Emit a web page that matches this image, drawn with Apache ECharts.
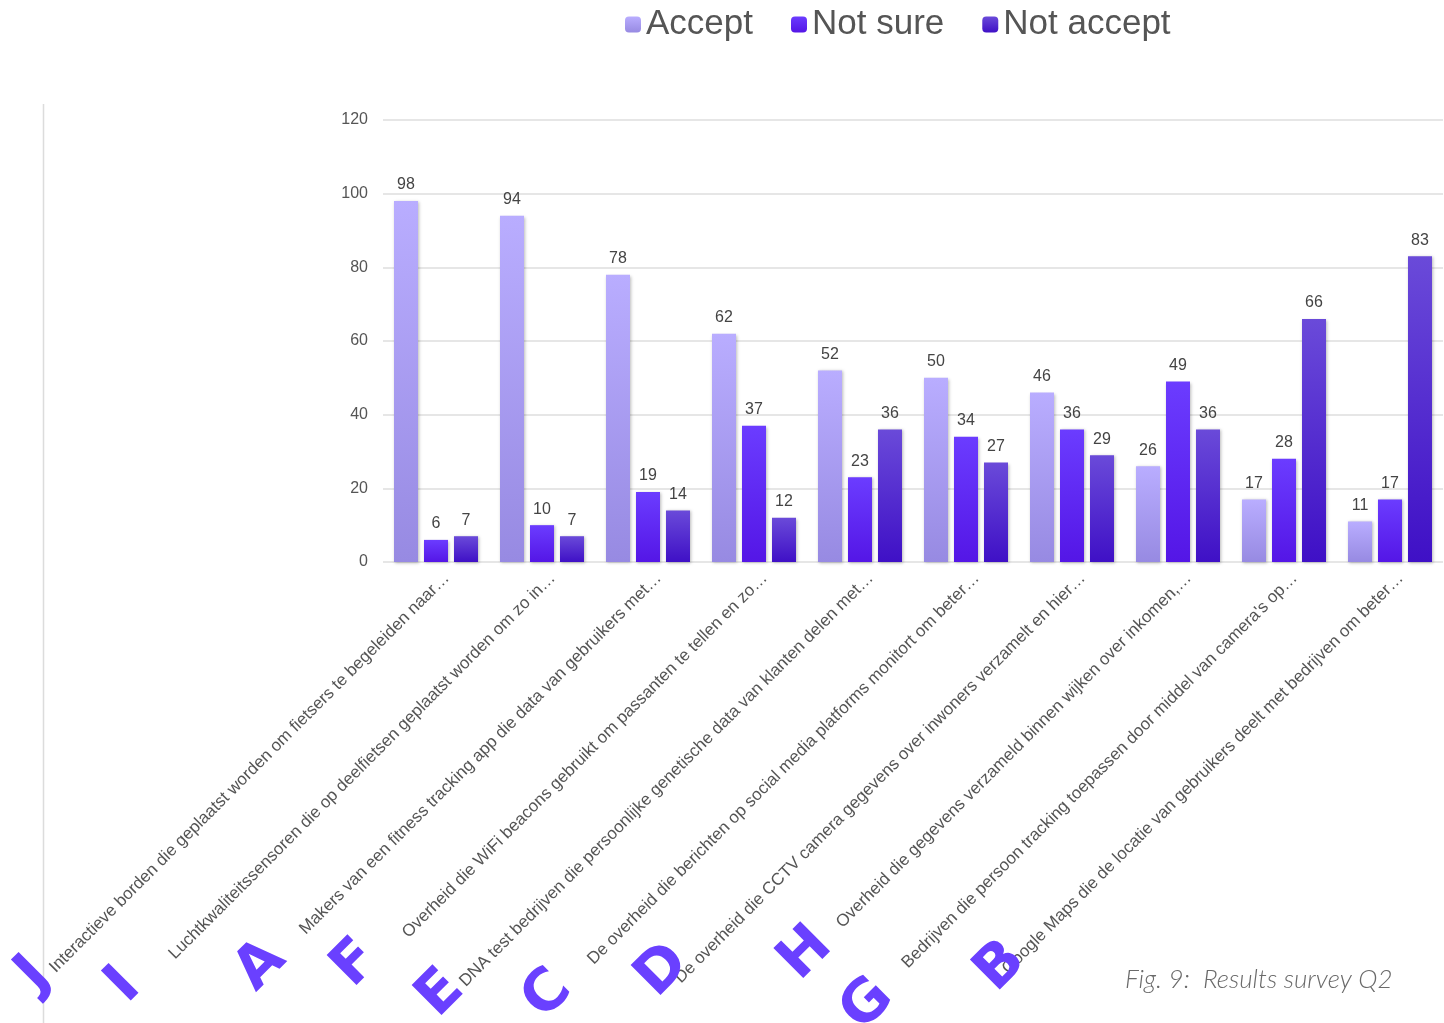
<!DOCTYPE html>
<html>
<head>
<meta charset="utf-8">
<script src="https://cdn.jsdelivr.net/npm/echarts@6/dist/echarts.min.js"></script>
<style>
  html, body { margin: 0; padding: 0; background: #fff; }
  #chart { width: 1444px; height: 1023px; }
</style>
</head>
<body>
<div id="chart"></div>
<script>
// Survey statements (as shown on the axis, already shortened)
const categories = [
  "Interactieve borden die geplaatst worden om fietsers te begeleiden naar\u2026",
  "Luchtkwaliteitssensoren die op deelfietsen geplaatst worden om zo in\u2026",
  "Makers van een fitness tracking app die data van gebruikers met\u2026",
  "Overheid die WiFi beacons gebruikt om passanten te tellen en zo\u2026",
  "DNA test bedrijven die persoonlijke genetische data van klanten delen met\u2026",
  "De overheid die berichten op social media platforms monitort om beter\u2026",
  "De overheid die CCTV camera gegevens over inwoners verzamelt en hier\u2026",
  "Overheid die gegevens verzameld binnen wijken over inkomen,\u2026",
  "Bedrijven die persoon tracking toepassen door middel van camera's op\u2026",
  "Google Maps die de locatie van gebruikers deelt met bedrijven om beter\u2026"
];

// Letter codes of the statements
const letters = ["J", "I", "A", "F", "E", "C", "D", "H", "G", "B"];

const seriesNames = ["Accept", "Not sure", "Not accept"];
const accept    = [98, 94, 78, 62, 52, 50, 46, 26, 17, 11];
const notSure   = [6, 10, 19, 37, 23, 34, 36, 49, 28, 17];
const notAccept = [7, 7, 14, 12, 36, 27, 29, 36, 66, 83];

const caption = "Fig. 9:  Results survey Q2";

const chart = echarts.init(document.getElementById('chart'), null, { renderer: 'canvas' });

function grad(top, bottom) {
  return new echarts.graphic.LinearGradient(0, 0, 0, 1, [
    { offset: 0, color: top },
    { offset: 1, color: bottom }
  ]);
}

const palette = [
  grad('#b9adff', '#978ae2'),
  grad('#6b3cff', '#5416e6'),
  grad('#6a4ad9', '#3f10c6')
];

const baseFont = 'Liberation Sans, Arial, sans-serif';

function barSeries(name, data, color) {
  return {
    name: name,
    type: 'bar',
    data: data,
    barWidth: 24,
    barGap: '25%',
    itemStyle: {
      color: color,
      shadowColor: 'rgba(0,0,0,0.28)',
      shadowBlur: 3,
      shadowOffsetX: 1,
      shadowOffsetY: 1
    },
    label: {
      show: true,
      position: 'top',
      distance: 8,
      color: '#444',
      fontFamily: baseFont,
      fontSize: 16
    }
  };
}

// Letter badges placed under the rotated axis labels
const letterPos = [
  [34, 975], [124, 986], [261, 966], [356, 964], [441, 994],
  [548, 995], [663, 971], [806, 954], [868, 1005], [1001, 967]
];

const graphics = [
  {
    type: 'line',
    shape: { x1: 43.5, y1: 104, x2: 43.5, y2: 1023 },
    style: { stroke: '#dcdcdc', lineWidth: 1.5 },
    z: 1
  },
  {
    type: 'text',
    left: 1125,
    top: 967,
    style: {
      text: caption,
      fill: '#6a6a6a',
      font: 'italic 300 26px Lato, "Open Sans", sans-serif'
    },
    z: 100
  }
].concat(letters.map((ch, i) => ({
  type: 'text',
  x: letterPos[i][0],
  y: letterPos[i][1],
  rotation: Math.PI / 4,
  style: {
    text: ch,
    fill: '#6a40ff',
    font: 'bold 58px "DejaVu Sans", sans-serif',
    align: 'center',
    verticalAlign: 'middle'
  },
  z: 100
})));

chart.setOption({
  animation: false,
  backgroundColor: '#fff',
  color: palette,
  legend: {
    left: 620,
    top: 2,
    itemWidth: 16,
    itemHeight: 16,
    itemGap: 38,
    textStyle: {
      color: '#555',
      fontSize: 35,
      fontFamily: baseFont
    },
    data: seriesNames
  },
  grid: {
    left: 383,
    right: 1,
    top: 120,
    bottom: 461,
    containLabel: false,
    outerBoundsMode: 'none'
  },
  xAxis: {
    type: 'category',
    data: categories,
    axisLine: { show: false },
    axisTick: { show: false },
    axisLabel: {
      interval: 0,
      rotate: 45,
      margin: 3,
      verticalAlign: 'top',
      lineHeight: 30,
      color: '#555',
      fontSize: 17,
      fontFamily: baseFont
    }
  },
  yAxis: {
    type: 'value',
    min: 0,
    max: 120,
    interval: 20,
    axisLine: { show: false },
    axisTick: { show: false },
    splitLine: { lineStyle: { color: '#dedede', width: 1.5 } },
    axisLabel: {
      margin: 15,
      color: '#555',
      fontSize: 16,
      fontFamily: baseFont
    }
  },
  series: [
    barSeries(seriesNames[0], accept, palette[0]),
    barSeries(seriesNames[1], notSure, palette[1]),
    barSeries(seriesNames[2], notAccept, palette[2])
  ],
  graphic: graphics
});
</script>
</body>
</html>
